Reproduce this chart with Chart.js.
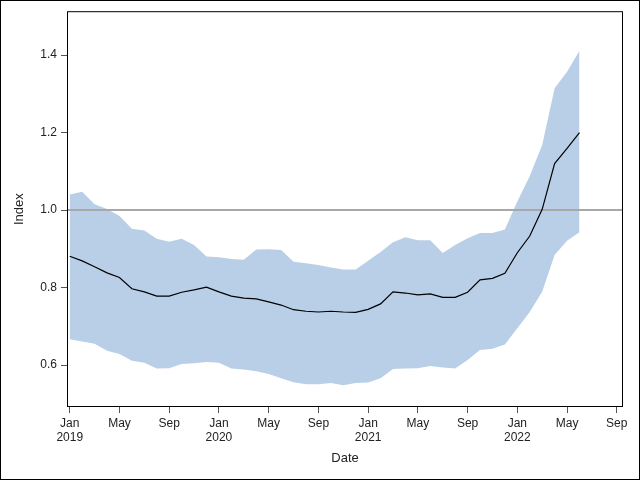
<!DOCTYPE html>
<html>
<head>
<meta charset="utf-8">
<script src="https://cdn.jsdelivr.net/npm/chart.js@4/dist/chart.umd.min.js"></script>
<style>
    html, body { margin: 0; padding: 0; background: #fff; }
    canvas { display: block; }
</style>
</head>
<body>
<canvas id="chart" width="640" height="480"></canvas>
<script>
// Месяцы наблюдений (янв 2019 – июн 2022)
const months = [
    '2019-01', '2019-02', '2019-03', '2019-04', '2019-05', '2019-06',
    '2019-07', '2019-08', '2019-09', '2019-10', '2019-11', '2019-12',
    '2020-01', '2020-02', '2020-03', '2020-04', '2020-05', '2020-06',
    '2020-07', '2020-08', '2020-09', '2020-10', '2020-11', '2020-12',
    '2021-01', '2021-02', '2021-03', '2021-04', '2021-05', '2021-06',
    '2021-07', '2021-08', '2021-09', '2021-10', '2021-11', '2021-12',
    '2022-01', '2022-02', '2022-03', '2022-04', '2022-05', '2022-06'
];

const indexValues = [
    0.881, 0.869, 0.854, 0.838, 0.826, 0.797, 0.789, 0.778, 0.778, 0.788, 0.794, 0.801,
    0.789, 0.778, 0.773, 0.771, 0.763, 0.755, 0.743, 0.739, 0.737, 0.739, 0.737, 0.736,
    0.744, 0.758, 0.789, 0.786, 0.781, 0.784, 0.775, 0.775, 0.788, 0.820, 0.824, 0.837,
    0.890, 0.933, 1.002, 1.120, 1.159, 1.200
];

const upperValues = [
    1.040, 1.047, 1.015, 1.003, 0.985, 0.952, 0.947, 0.926, 0.918, 0.926, 0.910, 0.880,
    0.878, 0.874, 0.872, 0.898, 0.899, 0.897, 0.867, 0.863, 0.858, 0.852, 0.847, 0.847,
    0.869, 0.892, 0.917, 0.930, 0.922, 0.922, 0.889, 0.910, 0.927, 0.941, 0.941, 0.950,
    1.022, 1.088, 1.168, 1.314, 1.357, 1.411
];

const lowerValues = [
    0.667, 0.661, 0.655, 0.637, 0.629, 0.611, 0.606, 0.591, 0.592, 0.603, 0.605, 0.608,
    0.606, 0.591, 0.589, 0.584, 0.577, 0.566, 0.556, 0.551, 0.551, 0.554, 0.548, 0.554,
    0.555, 0.566, 0.590, 0.591, 0.592, 0.598, 0.594, 0.591, 0.613, 0.639, 0.642, 0.653,
    0.695, 0.737, 0.789, 0.884, 0.921, 0.943
];

const xTickMonths = ['2019-01', '2019-05', '2019-09', '2020-01', '2020-05', '2020-09',
    '2021-01', '2021-05', '2021-09', '2022-01', '2022-05', '2022-09'];
const yTicks = [0.6, 0.8, 1.0, 1.2, 1.4];
const refValue = 1.0;

const monthNames = ['Jan', 'Feb', 'Mar', 'Apr', 'May', 'Jun', 'Jul', 'Aug', 'Sep', 'Oct', 'Nov', 'Dec'];

// Номер месяца от января 2019
const monthIndex = (s) => {
    const [y, m] = s.split('-').map(Number);
    return (y - 2019) * 12 + (m - 1);
};

const toPoints = (values) => values.map((v, i) => ({x: monthIndex(months[i]), y: v}));

const fontFamily = "'Liberation Sans', Arial, sans-serif";

// Рамка графика и внешняя рамка картинки
const framePlugin = {
    id: 'framePlugin',
    afterDraw(chart) {
        const {ctx, chartArea: a} = chart;
        ctx.save();
        ctx.strokeStyle = '#000';
        ctx.lineWidth = 1;
        ctx.strokeRect(a.left + 0.5, a.top + 0.5, a.right - a.left - 1, a.bottom - a.top - 1);
        ctx.strokeRect(0.5, 0.5, chart.width - 1, chart.height - 1);
        ctx.restore();
    }
};

// Горизонтальная линия на уровне 1.0 поверх полосы, под основной линией
const refLinePlugin = {
    id: 'refLinePlugin',
    beforeDatasetDraw(chart, args) {
        if (args.index !== 2) return;
        const {ctx, chartArea: a, scales} = chart;
        const y = scales.y.getPixelForValue(refValue);
        ctx.save();
        ctx.strokeStyle = '#a8a8a8';
        ctx.lineWidth = 2;
        ctx.beginPath();
        ctx.moveTo(a.left, y);
        ctx.lineTo(a.right, y);
        ctx.stroke();
        ctx.restore();
    }
};

new Chart(document.getElementById('chart'), {
    type: 'line',
    data: {
        datasets: [
            {
                label: 'lower',
                data: toPoints(lowerValues),
                borderWidth: 0,
                pointRadius: 0,
                fill: false,
                order: 2
            },
            {
                label: 'upper',
                data: toPoints(upperValues),
                borderWidth: 0,
                pointRadius: 0,
                backgroundColor: '#b9cfe7',
                fill: '-1',
                order: 2
            },
            {
                label: 'Index',
                data: toPoints(indexValues),
                borderColor: '#000',
                borderWidth: 1.2,
                pointRadius: 0,
                fill: false,
                order: 0
            }
        ]
    },
    options: {
        responsive: false,
        animation: false,
        events: [],
        layout: {
            padding: {top: 11, right: 17, left: 0, bottom: 0}
        },
        elements: {line: {tension: 0}},
        plugins: {
            legend: {display: false},
            tooltip: {enabled: false}
        },
        scales: {
            x: {
                type: 'linear',
                min: -0.22,
                max: 44.5,
                afterBuildTicks(axis) {
                    axis.ticks = xTickMonths.map(m => ({value: monthIndex(m)}));
                },
                afterFit(axis) {
                    axis.height = 73;
                },
                grid: {
                    drawOnChartArea: false,
                    drawTicks: true,
                    tickLength: 6,
                    tickColor: '#555'
                },
                border: {display: false},
                ticks: {
                    autoSkip: false,
                    maxRotation: 0,
                    padding: 3,
                    color: '#222',
                    font: {family: fontFamily, size: 12},
                    callback(value) {
                        const m = ((value % 12) + 12) % 12;
                        const name = monthNames[m];
                        return m === 0 ? [name, String(2019 + Math.floor(value / 12))] : name;
                    }
                },
                title: {
                    display: true,
                    text: 'Date',
                    color: '#222',
                    font: {family: fontFamily, size: 13},
                    padding: {top: 0, bottom: 14}
                }
            },
            y: {
                min: 0.492,
                max: 1.513,
                afterBuildTicks(axis) {
                    axis.ticks = yTicks.map(v => ({value: v}));
                },
                afterFit(axis) {
                    axis.width = 67;
                },
                grid: {
                    drawOnChartArea: false,
                    drawTicks: true,
                    tickLength: 6,
                    tickColor: '#555'
                },
                border: {display: false},
                ticks: {
                    padding: 4,
                    color: '#222',
                    font: {family: fontFamily, size: 12},
                    callback: (value) => value.toFixed(1)
                },
                title: {
                    display: true,
                    text: 'Index',
                    color: '#222',
                    font: {family: fontFamily, size: 13},
                    padding: {top: 12, bottom: 0}
                }
            }
        }
    },
    plugins: [refLinePlugin, framePlugin]
});
</script>
</body>
</html>
